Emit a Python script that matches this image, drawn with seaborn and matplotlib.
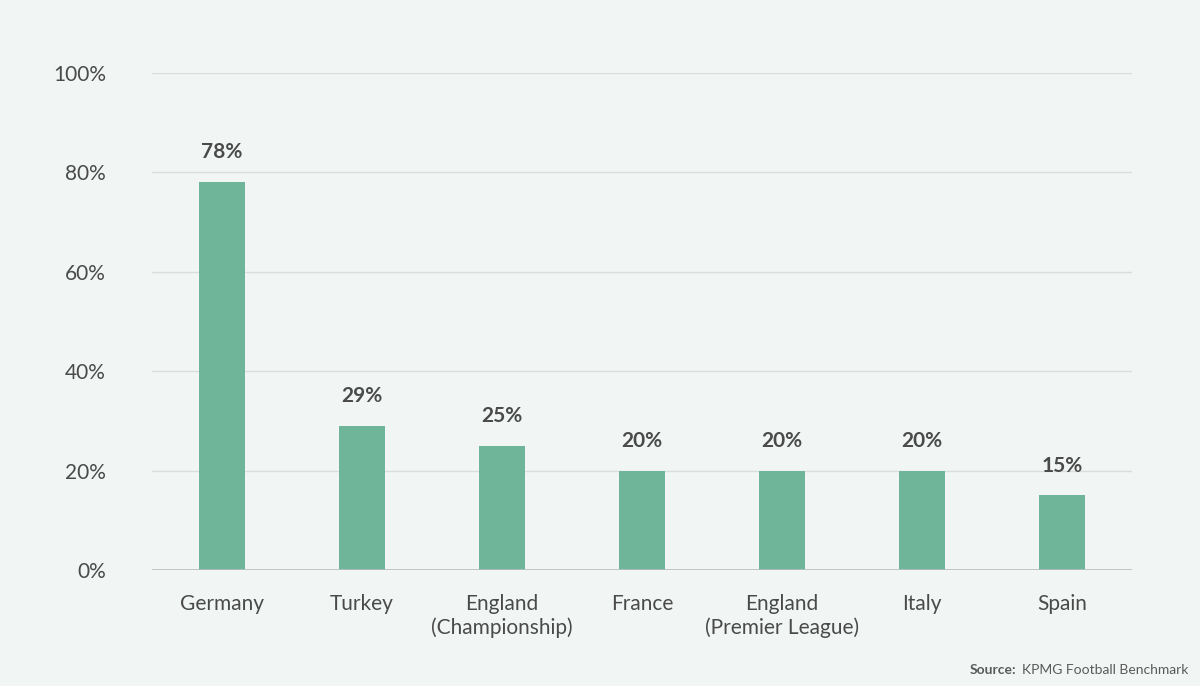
import matplotlib
matplotlib.use("Agg")
import matplotlib.pyplot as plt
import seaborn as sns
import pandas as pd

categories = ["Germany", "Turkey", "England\n(Championship)", "France",
              "England\n(Premier League)", "Italy", "Spain"]
values = [78, 29, 25, 20, 20, 20, 15]
bar_labels = ["78%", "29%", "25%", "20%", "20%", "20%", "15%"]
y_ticks = [0, 20, 40, 60, 80, 100]

bg = "#f1f6f5"
bar_color = "#6fb59a"
text_color = "#4a4a4a"

plt.rcParams["font.family"] = "Lato"

df = pd.DataFrame({"country": categories, "share": values})

fig = plt.figure(figsize=(12, 6.86), dpi=100, facecolor=bg)
ax = fig.add_axes([0.1265, 0.169, 0.817, 0.725])
ax.set_facecolor(bg)

sns.barplot(data=df, x="country", y="share", color=bar_color, width=0.33,
            saturation=1, ax=ax, zorder=3)

for i, (v, lab) in enumerate(zip(values, bar_labels)):
    ax.text(i, v + 4, lab, ha="center", va="bottom", fontsize=15,
            fontweight="bold", color=text_color)

ax.set_ylim(0, 100)
ax.set_xlim(-0.5, len(categories) - 0.5)
ax.set_yticks(y_ticks)
ax.set_yticklabels([f"{t}%" for t in y_ticks], fontsize=15, color=text_color)
ax.tick_params(axis="x", labelsize=15, labelcolor=text_color, length=0, pad=17)
ax.tick_params(axis="y", length=0, pad=33)
ax.set_xlabel("")
ax.set_ylabel("")
ax.grid(axis="y", color="#d8dedc", linewidth=1, zorder=0)
ax.axhline(0, color="#b8bebc", linewidth=1.2, zorder=4)
for s in ax.spines.values():
    s.set_visible(False)

fig.text(0.99, 0.015, "KPMG Football Benchmark", ha="right",
         va="bottom", fontsize=10, color="#5a5a5a")
fig.text(0.847, 0.015, "Source:", ha="right", va="bottom", fontsize=10,
         fontweight="bold", color="#5a5a5a")

fig.savefig("out.png", dpi=100, facecolor=bg)
